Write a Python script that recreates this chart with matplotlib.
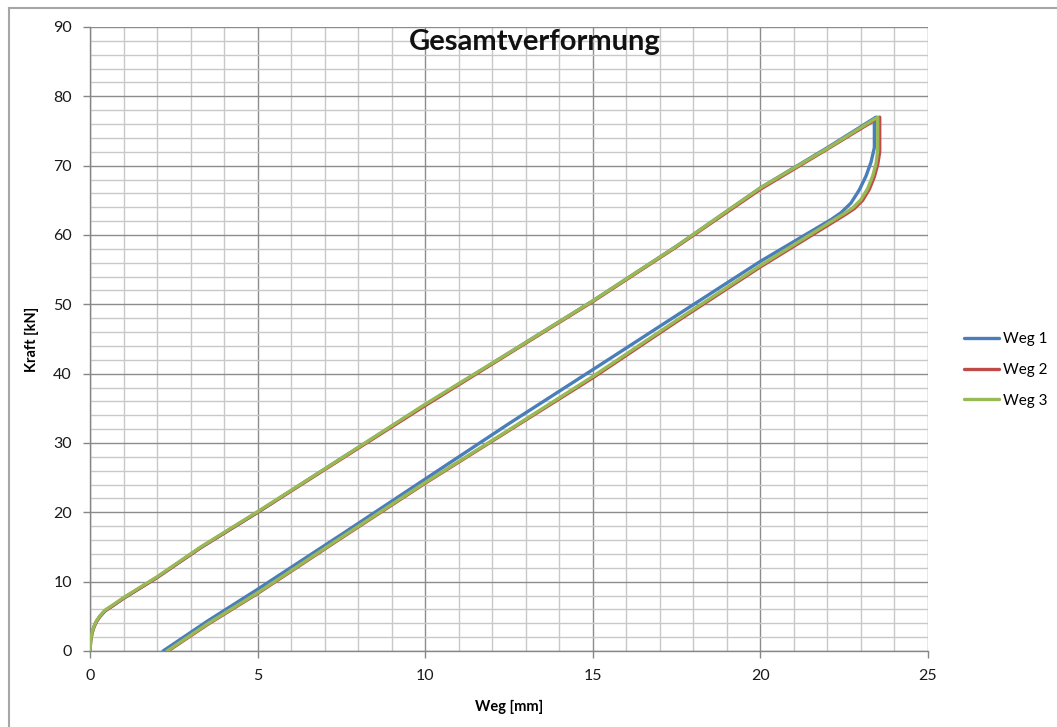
import matplotlib
matplotlib.use("Agg")
import matplotlib.pyplot as plt
from matplotlib.lines import Line2D
from matplotlib.ticker import MultipleLocator

# Weg [mm] / Kraft [kN] for the three displacement channels (load and unload cycle)
weg1_x = [0.0, 0.02, 0.06, 0.12, 0.2, 0.3, 0.45, 0.7, 1.0, 1.5, 2.0, 3.3, 5.0, 7.5, 10.0, 12.5, 15.0,
          17.5, 20.0, 22.0, 23.45,
          23.4, 23.4, 23.3, 23.15, 22.95, 22.7, 22.4, 22.1, 20.0, 17.5, 15.2, 12.5, 10.0, 7.5, 5.0,
          3.5, 2.18]
weg1_y = [0.0, 1.5, 2.6, 3.5, 4.3, 5.0, 5.8, 6.6, 7.6, 9.1, 10.6, 14.9, 20.0, 27.8, 35.5, 43.0, 50.5,
          58.4, 66.8, 72.6, 77.0,
          76.6, 72.6, 70.5, 68.5, 66.5, 64.6, 63.2, 62.2, 56.2, 48.4, 41.2, 32.8, 24.8, 16.8, 8.9,
          4.3, 0.0]

weg2_x = [0.0, 0.02, 0.06, 0.12, 0.2, 0.3, 0.45, 0.7, 1.0, 1.5, 2.0, 3.3, 5.0, 7.5, 10.0, 12.5, 15.0,
          17.5, 20.0, 22.0, 23.56,
          23.56, 23.5, 23.4, 23.25, 23.05, 22.8, 22.55, 22.35, 20.0, 17.5, 15.0, 12.5, 10.0, 7.5, 5.0,
          3.5, 2.33]
weg2_y = [0.0, 1.5, 2.6, 3.5, 4.3, 5.0, 5.8, 6.6, 7.6, 9.1, 10.6, 14.9, 20.0, 27.7, 35.4, 42.9, 50.4,
          58.3, 66.6, 72.4, 77.0,
          72.0, 70.2, 68.4, 66.6, 65.0, 63.8, 63.0, 62.4, 55.4, 47.5, 39.4, 31.8, 24.2, 16.3, 8.3,
          3.8, 0.0]

weg3_x = [0.0, 0.02, 0.06, 0.12, 0.2, 0.3, 0.45, 0.7, 1.0, 1.5, 2.0, 3.3, 5.0, 7.5, 10.0, 12.5, 15.0,
          17.5, 20.0, 22.0, 23.5,
          23.5, 23.45, 23.35, 23.2, 23.0, 22.75, 22.5, 22.3, 20.0, 17.5, 15.0, 12.5, 10.0, 7.5, 5.0,
          3.5, 2.3]
weg3_y = [0.0, 1.6, 2.7, 3.6, 4.4, 5.1, 5.9, 6.7, 7.7, 9.2, 10.7, 15.0, 20.1, 27.8, 35.6, 43.0, 50.5,
          58.4, 66.8, 72.5, 77.0,
          72.2, 70.3, 68.5, 66.7, 65.1, 63.9, 63.1, 62.5, 55.6, 47.7, 39.6, 31.9, 24.3, 16.4, 8.4,
          3.9, 0.0]

series_names = ["Weg 1", "Weg 2", "Weg 3"]
series_colors = ["#4A7EBB", "#BE4B48", "#98B954"]

title_text = "Gesamtverformung"
x_label = "Weg [mm]"
y_label = "Kraft [kN]"

plt.rcParams["font.family"] = ["Lato", "DejaVu Sans"]

fig = plt.figure(figsize=(10.57, 7.27), dpi=100)
ax = fig.add_axes([90 / 1057, 1 - 651 / 727, (928 - 90) / 1057, (651 - 27) / 727])

for xs, ys, name, col in zip([weg1_x, weg2_x, weg3_x], [weg1_y, weg2_y, weg3_y],
                             series_names, series_colors):
    ax.plot(xs, ys, color=col, lw=2.4, label=name, solid_joinstyle="round",
            solid_capstyle="round", zorder=3)

ax.set_xlim(0, 25)
ax.set_ylim(0, 90)
ax.xaxis.set_major_locator(MultipleLocator(5))
ax.xaxis.set_minor_locator(MultipleLocator(1))
ax.yaxis.set_major_locator(MultipleLocator(10))
ax.yaxis.set_minor_locator(MultipleLocator(2))

ax.grid(which="major", color="#8c8c8c", lw=1.0, zorder=1)
ax.grid(which="minor", color="#c8c8c8", lw=1.0, zorder=1)
ax.set_axisbelow(True)

for side in ["top", "right"]:
    ax.spines[side].set_visible(False)
for side in ["left", "bottom"]:
    ax.spines[side].set_color("#868686")
    ax.spines[side].set_linewidth(1.0)

ax.tick_params(which="major", direction="out", length=5, width=1, color="#868686",
               labelsize=11.5, labelcolor="#1a1a1a", pad=8)
ax.tick_params(which="minor", length=0)

ax.set_xlabel(x_label, fontsize=10.5, fontweight="bold", labelpad=12)
ax.set_ylabel(y_label, fontsize=10.5, fontweight="bold", labelpad=10)

fig.text(535 / 1057, 1 - 42 / 727, title_text, ha="center", va="center",
         fontsize=21, fontweight="bold", color="#111111")

ax.legend(loc="center left", bbox_to_anchor=(950 / 1057, 1 - 370 / 727),
          bbox_transform=fig.transFigure, frameon=False, fontsize=11,
          handlelength=2.3, handletextpad=0.3, labelspacing=1.1)

# chart-area border
fig.add_artist(Line2D([9 / 1057, 9 / 1057], [0, 1 - 8 / 727], transform=fig.transFigure,
                      color="#a6a6a6", lw=1.5))
fig.add_artist(Line2D([9 / 1057, 1], [1 - 8 / 727, 1 - 8 / 727], transform=fig.transFigure,
                      color="#a6a6a6", lw=1.5))

fig.savefig("out.png", dpi=100)
